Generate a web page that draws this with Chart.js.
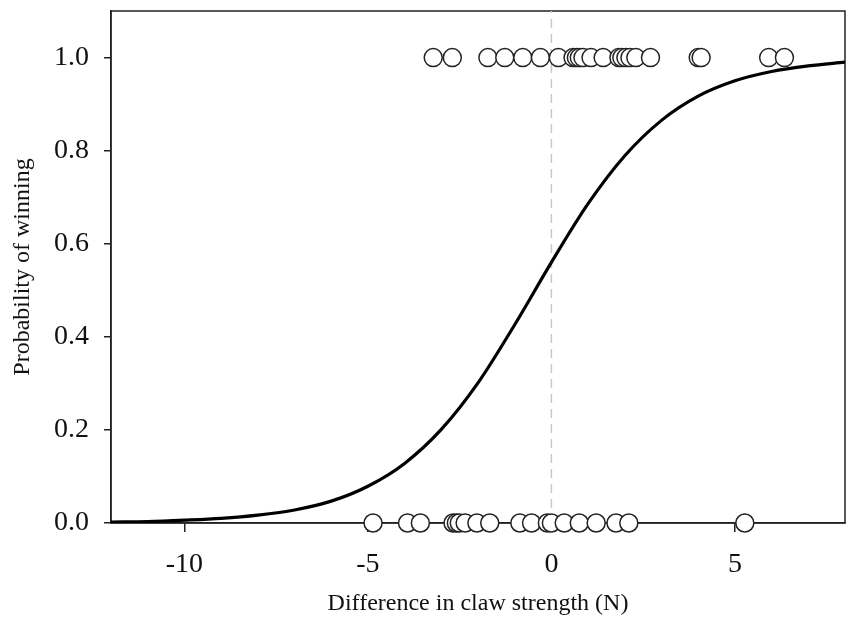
<!DOCTYPE html>
<html>
<head>
<meta charset="utf-8">
<script src="https://cdn.jsdelivr.net/npm/chart.js@4/dist/chart.umd.min.js"></script>
<style>
  html, body { margin: 0; padding: 0; background: #fff; }
  #wrap { width: 850px; height: 624px; }
</style>
</head>
<body>
<div id="wrap"><canvas id="chart1"></canvas></div>
<script>
// outcomes: fights won (y = 1) and lost (y = 0), x = difference in claw strength (N)
const wonX = [-3.22, -2.70, -1.73, -1.27, -0.78, -0.30, 0.19, 0.59, 0.68, 0.76, 0.86, 1.08,
    1.41, 1.84, 1.92, 2.03, 2.14, 2.30, 2.70, 4.00, 4.08, 5.92, 6.35];
const lostX = [-4.86, -3.92, -3.57, -2.68, -2.59, -2.51, -2.35, -2.03, -1.68, -0.86, -0.54,
    -0.11, 0.0, 0.35, 0.76, 1.22, 1.76, 2.11, 5.27];

// fitted curve
const curveX = [-12, -11, -10, -9, -8, -7, -6, -5, -4, -3, -2, -1, 0, 1, 2, 3, 4, 5, 6, 7, 8];
const curveY = [0.002, 0.003, 0.006, 0.010, 0.017, 0.028, 0.047, 0.079, 0.128, 0.201, 0.301,
    0.426, 0.560, 0.686, 0.789, 0.865, 0.917, 0.950, 0.970, 0.982, 0.990];

const xTicks = [-10, -5, 0, 5];
const yTicks = [0, 0.2, 0.4, 0.6, 0.8, 1.0];

const serif = "'Liberation Serif', 'DejaVu Serif', serif";

// box around the plot area
const frame = {
    id: 'frame',
    beforeDatasetsDraw(chart) {
        const a = chart.chartArea, c = chart.ctx;
        c.save();
        c.strokeStyle = '#222';
        c.lineWidth = 1.5;
        c.strokeRect(a.left, a.top, a.right - a.left, a.bottom - a.top);
        c.restore();
    }
};

function noPad(s) {
    s.paddingTop = 0; s.paddingBottom = 0;
    s.paddingLeft = 0; s.paddingRight = 0;
}

window.onload = function () {
    const ctx1 = document.getElementById('chart1').getContext('2d');

    new Chart(ctx1, {
        type: 'scatter',
        data: {
            datasets: [{
                label: 'won',
                data: wonX.map(v => ({x: v, y: 1})),
                pointRadius: 9, pointHoverRadius: 9,
                backgroundColor: '#fff', borderColor: '#222', borderWidth: 1.5,
                clip: false, order: 0
            }, {
                label: 'lost',
                data: lostX.map(v => ({x: v, y: 0})),
                pointRadius: 9, pointHoverRadius: 9,
                backgroundColor: '#fff', borderColor: '#222', borderWidth: 1.5,
                clip: false, order: 0
            }, {
                label: 'fit',
                data: curveX.map((v, i) => ({x: v, y: curveY[i]})),
                showLine: true, pointRadius: 0,
                borderColor: '#000', borderWidth: 3.2,
                cubicInterpolationMode: 'monotone',
                order: 1
            }, {
                label: 'zero',
                data: [{x: 0, y: 0}, {x: 0, y: 1.1}],
                showLine: true, pointRadius: 0,
                borderColor: '#c8c8c8', borderWidth: 1.5, borderDash: [9, 6],
                order: 2
            }]
        },
        options: {
            responsive: true,
            maintainAspectRatio: false,
            animation: false,
            layout: {autoPadding: false, padding: {top: 11, right: 5, left: 0, bottom: 0}},
            plugins: {legend: {display: false}, tooltip: {enabled: false}},
            scales: {
                x: {
                    type: 'linear', min: -12, max: 8,
                    afterBuildTicks: s => { s.ticks = xTicks.map(v => ({value: v})); },
                    afterFit: s => { s.height = 101; noPad(s); },
                    grid: {drawOnChartArea: false, drawTicks: true, tickLength: 9, color: '#222', lineWidth: 1.5},
                    border: {display: true, color: '#222', width: 1.5},
                    ticks: {color: '#111', font: {family: serif, size: 28}, padding: 16},
                    title: {display: true, text: 'Difference in claw strength (N)', color: '#111',
                        font: {family: serif, size: 24}, padding: {top: 4, bottom: 6}}
                },
                y: {
                    type: 'linear', min: 0, max: 1.1,
                    afterBuildTicks: s => { s.ticks = yTicks.map(v => ({value: v})); },
                    afterFit: s => { s.width = 111; noPad(s); },
                    grid: {drawOnChartArea: false, drawTicks: true, tickLength: 7, color: '#222', lineWidth: 1.5},
                    border: {display: true, color: '#222', width: 1.5},
                    ticks: {color: '#111', font: {family: serif, size: 28}, padding: 15,
                        callback: v => v.toFixed(1)},
                    title: {display: true, text: 'Probability of winning', color: '#111',
                        font: {family: serif, size: 24}, padding: {top: 8, bottom: 4}}
                }
            }
        },
        plugins: [frame]
    });
}
</script>
</body>
</html>
